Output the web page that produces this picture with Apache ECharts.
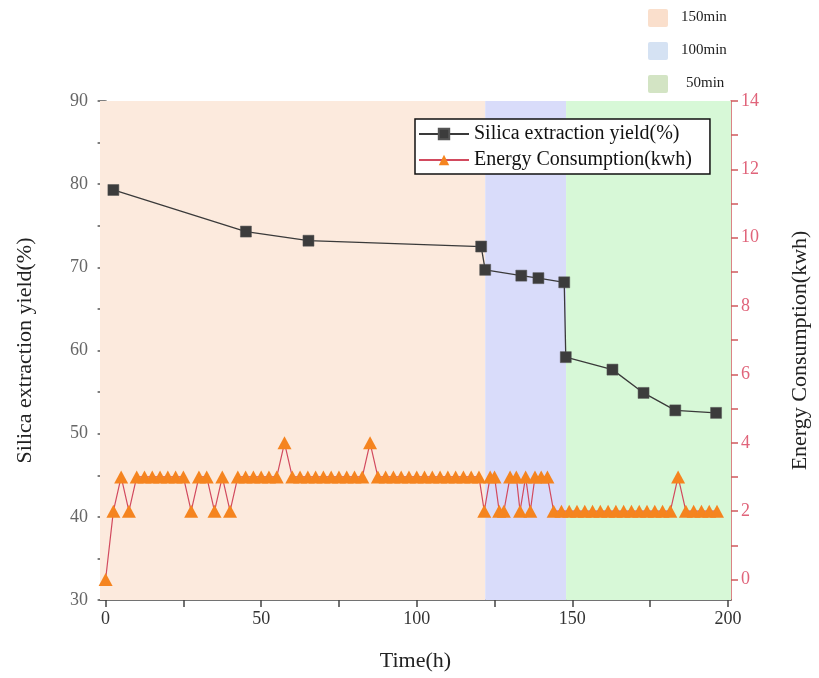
<!DOCTYPE html>
<html>
<head>
<meta charset="utf-8">
<script src="https://cdn.jsdelivr.net/npm/echarts@6/dist/echarts.min.js"></script>
<style>
  html, body { margin: 0; padding: 0; background: #ffffff; }
  #chart { width: 819px; height: 678px; }
</style>
</head>
<body>
<div id="chart"></div>
<script>
// Silica extraction yield sampled over the run
const silicaTime = [2.5, 45.1, 65.2, 120.7, 122.0, 133.6, 139.1, 147.4, 147.9, 162.9, 172.9, 183.1, 196.2];
const silicaYield = [79.3, 74.3, 73.2, 72.5, 69.7, 69.0, 68.7, 68.2, 59.2, 57.7, 54.9, 52.8, 52.5];

// Energy consumption log
const energyTime = [
  0, 2.5, 5, 7.5, 10, 12.5, 15, 17.5, 20, 22.5, 25, 27.5, 30, 32.5, 35, 37.5, 40,
  42.5, 45, 47.5, 50, 52.5, 55, 57.5, 60, 62.5, 65, 67.5, 70, 72.5, 75, 77.5, 80,
  82.5, 85, 87.5, 90, 92.5, 95, 97.5, 100, 102.5, 105, 107.5, 110, 112.5, 115, 117.5, 120,
  121.7, 123.6, 125, 126.5, 128, 130, 132, 133.2, 135, 136.5, 138, 140, 142,
  144, 146.5, 149, 151.5, 154, 156.5, 159, 161.5, 164, 166.5, 169, 171.5, 174,
  176.5, 179, 181.5, 184, 186.5, 189, 191.5, 194, 196.5
];
const energyValue = [
  0, 2, 3, 2, 3, 3, 3, 3, 3, 3, 3, 2, 3, 3, 2, 3, 2,
  3, 3, 3, 3, 3, 3, 4, 3, 3, 3, 3, 3, 3, 3, 3, 3,
  3, 4, 3, 3, 3, 3, 3, 3, 3, 3, 3, 3, 3, 3, 3, 3,
  2, 3, 3, 2, 2, 3, 3, 2, 3, 2, 3, 3, 3,
  2, 2, 2, 2, 2, 2, 2, 2, 2, 2, 2, 2, 2,
  2, 2, 2, 3, 2, 2, 2, 2, 2
];

// Treatment periods shaded behind the curves
const periodNames = ['150min', '100min', '50min'];
const periodStart = [-1.8, 122, 148];
const periodEnd = [122, 148, 201];
const periodFill = ['#fceadd', '#d9dcfa', '#d7f8d7'];
const periodSwatch = ['#fadfcc', '#d5e2f3', '#d3e4c4'];

// Axis tick positions
const xTickLabels = [0, 50, 100, 150, 200];
const xTicks = [0, 25, 50, 75, 100, 125, 150, 175, 200];
const rightTickLabels = [0, 2, 4, 6, 8, 10, 12, 14];
const rightTicks = [0, 1, 2, 3, 4, 5, 6, 7, 8, 9, 10, 11, 12, 13, 14];

const FONT = "'Liberation Serif', 'Times New Roman', serif";

const chart = echarts.init(document.getElementById('chart'), null, { renderer: 'canvas' });

const silicaData = silicaTime.map((t, i) => [t, silicaYield[i]]);
const energyData = energyTime.map((t, i) => [t, energyValue[i]]);

const bandAreas = periodStart.map((s, i) => [
  { xAxis: s, itemStyle: { color: periodFill[i] } },
  { xAxis: periodEnd[i] }
]);

// Swatch legend for the treatment periods (top right)
const swatchGraphics = [];
periodNames.forEach((name, i) => {
  const top = 9 + i * 33;
  swatchGraphics.push({
    type: 'rect',
    left: 648, top: top,
    shape: { width: 20, height: 18, r: 2 },
    style: { fill: periodSwatch[i] }
  });
  swatchGraphics.push({
    type: 'text',
    left: i === 2 ? 686 : 681,
    top: top + 1,
    style: { text: name, font: '15px ' + FONT, fill: '#222' }
  });
});

const option = {
  backgroundColor: '#ffffff',
  animation: false,
  grid: { left: 100, right: 88, top: 101, bottom: 78, containLabel: false },
  legend: {
    data: ['Silica extraction yield(%)', 'Energy Consumption(kwh)'],
    orient: 'vertical',
    left: 415,
    top: 119,
    padding: [5, 18, 4, 3],
    itemGap: 6,
    itemWidth: 50,
    itemHeight: 13,
    backgroundColor: '#ffffff',
    borderColor: '#111',
    borderWidth: 1.5,
    textStyle: { fontFamily: FONT, fontSize: 20, color: '#111', lineHeight: 20 }
  },
  xAxis: {
    type: 'value',
    min: -1.8,
    max: 201,
    name: 'Time(h)',
    nameLocation: 'middle',
    nameGap: 50,
    nameTextStyle: { fontFamily: FONT, fontSize: 22, color: '#222' },
    axisLine: { show: true, onZero: false, lineStyle: { color: '#444', width: 1.5 } },
    axisTick: { show: true, inside: false, length: 7, customValues: xTicks, lineStyle: { color: '#444', width: 1.5 } },
    axisLabel: { customValues: xTickLabels, margin: 10, fontFamily: FONT, fontSize: 18, color: '#333' },
    splitLine: { show: false }
  },
  yAxis: [
    {
      type: 'value',
      min: 30,
      max: 90,
      interval: 10,
      position: 'left',
      name: 'Silica extraction yield(%)',
      nameLocation: 'middle',
      nameGap: 64,
      nameRotate: 90,
      nameTextStyle: { fontFamily: FONT, fontSize: 22, color: '#222' },
      axisLine: { show: true, lineStyle: { color: '#555', width: 1.5 } },
      axisTick: { show: true, length: 8, lineStyle: { color: '#555', width: 1.5 } },
      minorTick: { show: true, splitNumber: 2, length: 8, lineStyle: { color: '#555', width: 1.5 } },
      axisLabel: { margin: 12, fontFamily: FONT, fontSize: 18, color: '#666' },
      splitLine: { show: false }
    },
    {
      type: 'value',
      min: -0.6,
      max: 14,
      position: 'right',
      name: 'Energy Consumption(kwh)',
      nameLocation: 'middle',
      nameGap: 58,
      nameRotate: 90,
      nameTextStyle: { fontFamily: FONT, fontSize: 22, color: '#222' },
      axisLine: { show: true, lineStyle: { color: '#cf5a5e', width: 1.5 } },
      axisTick: { show: true, length: 7, customValues: rightTicks, lineStyle: { color: '#cf5a5e', width: 1.5 } },
      axisLabel: { customValues: rightTickLabels, margin: 10, fontFamily: FONT, fontSize: 18, color: '#e0647a' },
      splitLine: { show: false }
    }
  ],
  graphic: swatchGraphics,
  series: [
    {
      name: 'periods',
      type: 'line',
      data: [],
      z: 1,
      silent: true,
      markArea: { silent: true, data: bandAreas }
    },
    {
      name: 'Energy Consumption(kwh)',
      type: 'line',
      yAxisIndex: 1,
      data: energyData,
      z: 3,
      symbol: 'triangle',
      symbolSize: [14, 13],
      showSymbol: true,
      lineStyle: { color: '#d24a5e', width: 1.2 },
      itemStyle: { color: '#f5841f' }
    },
    {
      name: 'Silica extraction yield(%)',
      type: 'line',
      yAxisIndex: 0,
      data: silicaData,
      z: 4,
      symbol: 'rect',
      symbolSize: 11,
      showSymbol: true,
      lineStyle: { color: '#3a3a3a', width: 1.3 },
      itemStyle: { color: '#3c3c3c', borderColor: '#555', borderWidth: 0.5 }
    }
  ]
};

chart.setOption(option);
</script>
</body>
</html>
